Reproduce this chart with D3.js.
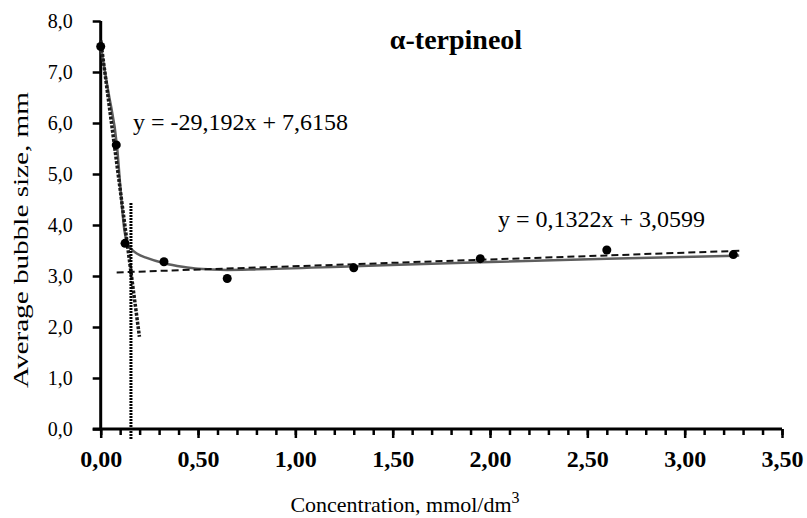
<!DOCTYPE html>
<html>
<head>
<meta charset="utf-8">
<script src="https://cdn.jsdelivr.net/npm/d3@7/dist/d3.min.js"></script>
<style>
  html, body { margin: 0; padding: 0; background: #fff; }
  svg { display: block; }
</style>
</head>
<body>
<svg id="chart" width="807" height="518"></svg>
<script>
// ---- data ----
const concentration = [0, 0.08, 0.125, 0.325, 0.65, 1.3, 1.95, 2.6, 3.25];
const bubbleSize    = [7.5, 5.57, 3.64, 3.28, 2.95, 3.16, 3.34, 3.51, 3.42];

const curveX = [0, 0.04, 0.085, 0.105, 0.12, 0.135, 0.155, 0.19, 0.233, 0.327, 0.42, 0.5, 0.65, 0.8, 1.3, 1.95, 2.6, 3.28];
const curveY = [7.5, 6.6, 5.5, 4.55, 3.95, 3.66, 3.54, 3.43, 3.36, 3.25, 3.18, 3.14, 3.12, 3.13, 3.19, 3.27, 3.34, 3.40];

const steepLineX = [0, 0.199];
const steepLineY = [7.6158, 1.807];
const flatLineX = [0.082, 3.294];
const flatLineY = [3.0707, 3.4954];
const intersectX = [0.1554, 0.1554];
const intersectY = [4.43, -0.2];

const xMajorTicks = [0, 0.5, 1.0, 1.5, 2.0, 2.5, 3.0, 3.5];
const xTickLabels = ["0,00", "0,50", "1,00", "1,50", "2,00", "2,50", "3,00", "3,50"];
const xMinorTicks = d3.range(0, 36).map(i => i / 10);
const yTicks = [0, 1, 2, 3, 4, 5, 6, 7, 8];
const yTickLabels = ["0,0", "1,0", "2,0", "3,0", "4,0", "5,0", "6,0", "7,0", "8,0"];

const title = "α-terpineol";
const eq1 = "y = -29,192x + 7,6158";
const eq2 = "y = 0,1322x + 3,0599";

// ---- drawing ----
const svg = d3.select("#chart");
const x = d3.scaleLinear().domain([0, 3.5]).range([100.7, 782]);
const y = d3.scaleLinear().domain([0, 8]).range([429, 21]);
const serif = "'Liberation Serif', 'Times New Roman', serif";

// y axis
const yAxis = d3.axisLeft(y).tickValues(yTicks).tickFormat((d, i) => yTickLabels[i]).tickSize(8).tickPadding(20);
const gy = svg.append("g").attr("transform", `translate(${x(0)},0)`).call(yAxis);
gy.select(".domain").attr("stroke", "#000").attr("stroke-width", 3).attr("d", `M0,${y(8)}V${y(0)}`);
gy.selectAll(".tick line").attr("stroke", "#000").attr("stroke-width", 2.5);
gy.selectAll(".tick text").attr("font-family", serif).attr("font-size", 20).attr("fill", "#000");

// x axis minor ticks
const gxm = svg.append("g").attr("transform", `translate(0,${y(0)})`);
gxm.call(d3.axisBottom(x).tickValues(xMinorTicks).tickSize(6).tickFormat(""));
gxm.select(".domain").remove();
gxm.selectAll(".tick line").attr("stroke", "#000").attr("stroke-width", 2.5);

// x axis major
const xAxis = d3.axisBottom(x).tickValues(xMajorTicks).tickFormat((d, i) => xTickLabels[i]).tickSize(9).tickPadding(12);
const gx = svg.append("g").attr("transform", `translate(0,${y(0)})`).call(xAxis);
gx.select(".domain").attr("stroke", "#000").attr("stroke-width", 3).attr("d", `M${x(0) - 8},0H${x(3.5)}`);
gx.selectAll(".tick line").attr("stroke", "#000").attr("stroke-width", 2.5);
gx.selectAll(".tick text").attr("font-family", serif).attr("font-size", 24).attr("font-weight", "bold").attr("fill", "#000");

const line = d3.line().x(d => x(d[0])).y(d => y(d[1]));

// fitted curve (grey)
svg.append("path")
  .datum(curveX.map((v, i) => [v, curveY[i]]))
  .attr("d", line.curve(d3.curveMonotoneX))
  .attr("fill", "none").attr("stroke", "#5e5e5e").attr("stroke-width", 2.5);
line.curve(d3.curveLinear);

// flat trend (dashed)
svg.append("path")
  .datum(flatLineX.map((v, i) => [v, flatLineY[i]]))
  .attr("d", line)
  .attr("fill", "none").attr("stroke", "#111").attr("stroke-width", 2).attr("stroke-dasharray", "7,4");

// steep trend (dotted)
svg.append("path")
  .datum(steepLineX.map((v, i) => [v, steepLineY[i]]))
  .attr("d", line)
  .attr("fill", "none").attr("stroke", "#1a1a1a").attr("stroke-width", 3.5).attr("stroke-dasharray", "3,1.5");

// intersection vertical
svg.append("path")
  .datum(intersectX.map((v, i) => [v, intersectY[i]]))
  .attr("d", line)
  .attr("fill", "none").attr("stroke", "#000").attr("stroke-width", 3).attr("stroke-dasharray", "2,1");

// points
svg.append("g").selectAll("circle")
  .data(concentration.map((v, i) => [v, bubbleSize[i]]))
  .join("circle")
  .attr("cx", d => x(d[0])).attr("cy", d => y(d[1])).attr("r", 4.5).attr("fill", "#000");

// texts
svg.append("text").attr("x", 456).attr("y", 49).attr("text-anchor", "middle")
  .attr("font-family", serif).attr("font-weight", "bold").attr("font-size", 28).text(title);
svg.append("text").attr("x", 133).attr("y", 130)
  .attr("font-family", serif).attr("font-size", 24).text(eq1);
svg.append("text").attr("x", 498).attr("y", 227)
  .attr("font-family", serif).attr("font-size", 24).text(eq2);

const xt = svg.append("text").attr("x", 405).attr("y", 512).attr("text-anchor", "middle")
  .attr("font-family", serif).attr("font-size", 22);
xt.append("tspan").text("Concentration, mmol/dm");
xt.append("tspan").attr("dy", -9).attr("font-size", 16).text("3");

svg.append("text").attr("transform", `translate(28,240) rotate(-90)`)
  .attr("text-anchor", "middle").attr("font-family", serif).attr("font-size", 21)
  .attr("textLength", 296).attr("lengthAdjust", "spacingAndGlyphs")
  .text("Average bubble size, mm");
</script>
</body>
</html>
